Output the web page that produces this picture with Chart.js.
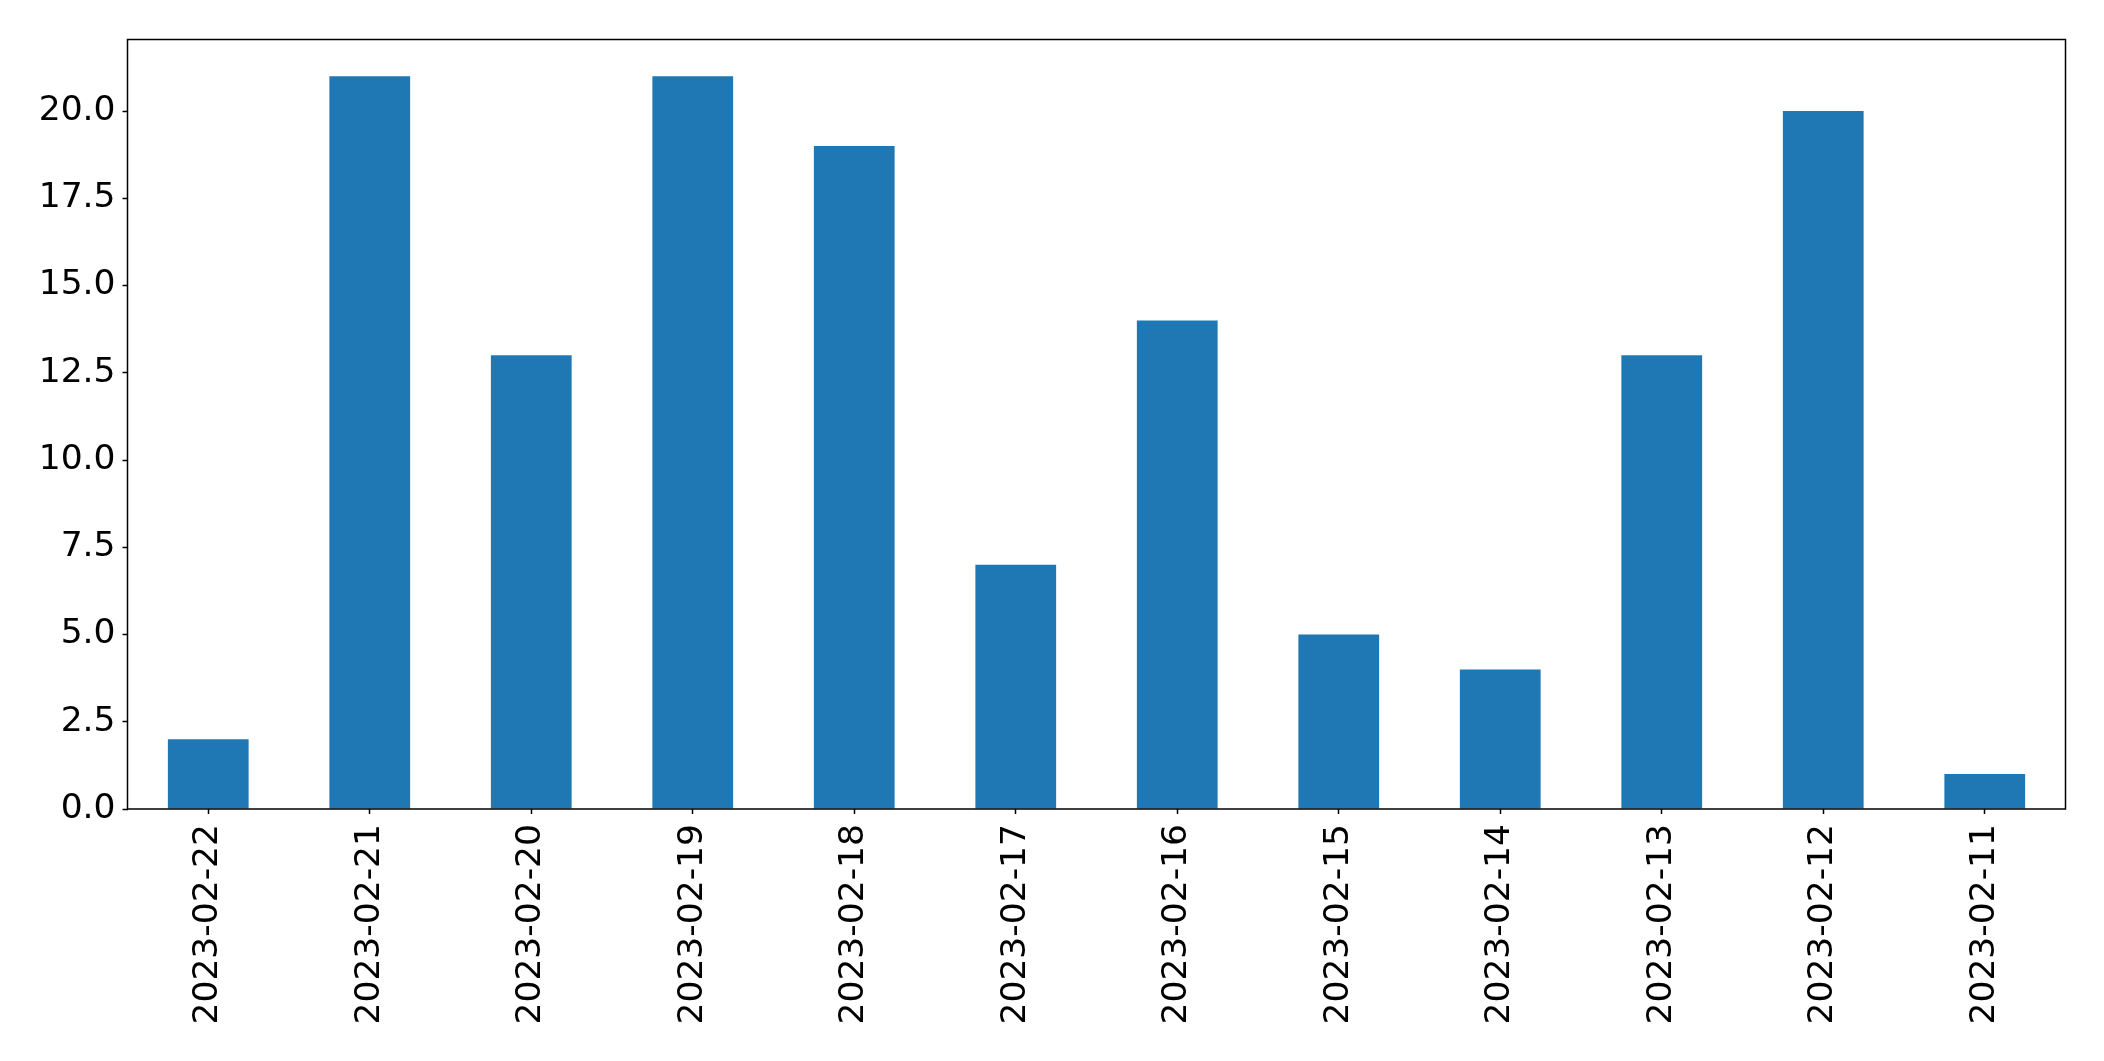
<!DOCTYPE html>
<html>
<head>
<meta charset="utf-8">
<script src="https://cdn.jsdelivr.net/npm/chart.js@4/dist/chart.umd.min.js"></script>
<style>
  body { margin: 0; background: #fff; }
  canvas { display: block; }
</style>
</head>
<body>
<canvas id="chartCanvas" width="2104" height="1061"></canvas>
<script>
const dates = ["2023-02-22", "2023-02-21", "2023-02-20", "2023-02-19", "2023-02-18", "2023-02-17",
  "2023-02-16", "2023-02-15", "2023-02-14", "2023-02-13", "2023-02-12", "2023-02-11"];
const counts = [2, 21, 13, 21, 19, 7, 14, 5, 4, 13, 20, 1];
const yTicks = [0, 2.5, 5, 7.5, 10, 12.5, 15, 17.5, 20];

const font = { family: "DejaVu Sans", size: 34.5 };

// matplotlib style frame round the plot area
const frame = {
  id: "frame",
  afterDraw(chart) {
    const a = chart.chartArea;
    const ctx = chart.ctx;
    ctx.save();
    ctx.strokeStyle = "#000";
    ctx.lineWidth = 1.5;
    ctx.strokeRect(a.left, a.top, a.right - a.left, a.bottom - a.top);
    ctx.restore();
  }
};

const ctx = document.getElementById("chartCanvas").getContext("2d");
new Chart(ctx, {
  type: "bar",
  data: {
    labels: dates,
    datasets: [{
      data: counts,
      backgroundColor: "#1f77b4",
      barPercentage: 0.5,
      categoryPercentage: 1.0
    }]
  },
  options: {
    responsive: false,
    animation: false,
    layout: { padding: { left: 0, top: 39.5, right: 38.5, bottom: 0 } },
    plugins: { legend: { display: false }, tooltip: { enabled: false } },
    scales: {
      x: {
        offset: true,
        grid: { offset: false, drawOnChartArea: false, tickLength: 5, tickColor: "#000", tickWidth: 1.5 },
        border: { display: false },
        ticks: { color: "#000", font: font, minRotation: 90, maxRotation: 90, padding: 10, autoSkip: false },
        afterFit(scale) { scale.height = 252; }
      },
      y: {
        min: 0,
        max: 22.05,
        grid: { drawOnChartArea: false, tickLength: 5, tickColor: "#000", tickWidth: 1.5 },
        border: { display: false },
        ticks: {
          color: "#000",
          font: font,
          padding: 7,
          callback: v => v.toFixed(1)
        },
        afterBuildTicks(scale) { scale.ticks = yTicks.map(v => ({ value: v })); },
        afterFit(scale) { scale.width = 127.5; }
      }
    }
  },
  plugins: [frame]
});
</script>
</body>
</html>
